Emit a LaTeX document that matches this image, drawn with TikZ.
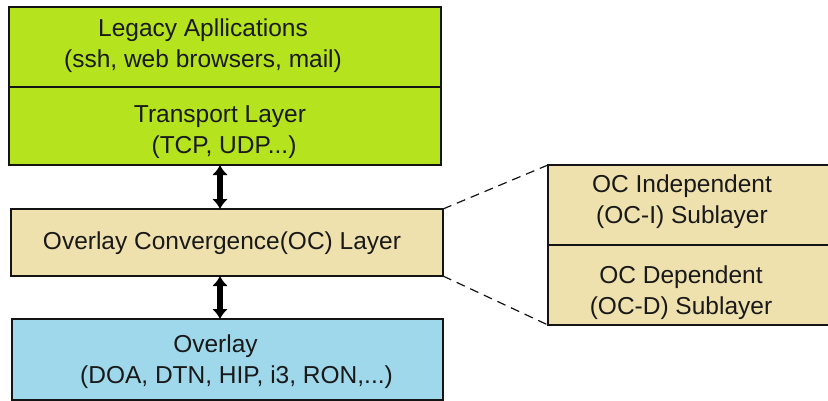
\documentclass[tikz,border=0pt]{standalone}
\usepackage{fontspec}
\setmainfont{Liberation Sans}
\usetikzlibrary{arrows.meta}
\definecolor{appgreen}{RGB}{181,228,30}
\definecolor{octan}{RGB}{238,225,174}
\definecolor{ovblue}{RGB}{158,216,234}
\definecolor{edge}{RGB}{20,20,20}
\begin{document}
\begin{tikzpicture}[x=1pt,y=-1pt,
  layer/.style={draw=edge,line width=1.5pt,inner sep=0pt,outer sep=0pt,rectangle},
  lbl/.style={align=center,inner sep=0pt,font=\fontsize{24.5}{31.5}\selectfont,text=black!90},
  link/.style={line width=6.5pt,{Latex[length=10pt,width=16pt]}-{Latex[length=10pt,width=16pt]}},
  zoomline/.style={dash pattern=on 9pt off 6pt,line width=1.2pt,draw=edge}]
\useasboundingbox (0,0) rectangle (828,400);

% left stack
\node[layer,fill=appgreen,minimum width=432pt,minimum height=80pt] (legacy) at (225,47) {};
\node[layer,fill=appgreen,minimum width=432pt,minimum height=78pt] (transport) at (225,126) {};
\node[layer,fill=octan,minimum width=432pt,minimum height=67pt] (oc) at (227,242.5) {};
\node[layer,fill=ovblue,minimum width=431pt,minimum height=81pt] (overlay) at (227.5,359.5) {};

\node[lbl] (legacyT) at (203,45.5) {Legacy Apllications\\(ssh, web browsers, mail)};
\node[lbl] (transportT) at (222,132) {Transport Layer\hspace*{4pt}\\\hspace*{4pt}(TCP, UDP...)};
\node[lbl] (ocT) at (222,243.5) {Overlay Convergence(OC) Layer};
\node[lbl] (overlayT) at (226,361.5) {Overlay\hspace*{21pt}\\\hspace*{21pt}(DOA, DTN, HIP, i3, RON,...)};

% sublayers of the OC layer
\node[layer,fill=octan,minimum width=282pt,minimum height=80pt] (indep) at (689,205) {};
\node[layer,fill=octan,minimum width=282pt,minimum height=80pt] (dep) at (689,285) {};
\node[lbl] (indepT) at (682,201.5) {OC Independent\\(OC-I) Sublayer};
\node[lbl] (depT) at (681,292.5) {OC Dependent\\(OC-D) Sublayer};

% vertical axis of the two double arrows
\coordinate (axis) at (220,0);

% connectors
\draw[link] (axis |- transport.south) -- (axis |- oc.north);
\draw[link] (axis |- oc.south) -- (axis |- overlay.north);
\draw[zoomline] (oc.north east) -- (indep.north west);
\draw[zoomline] (oc.south east) -- (dep.south west);
\end{tikzpicture}
\end{document}
